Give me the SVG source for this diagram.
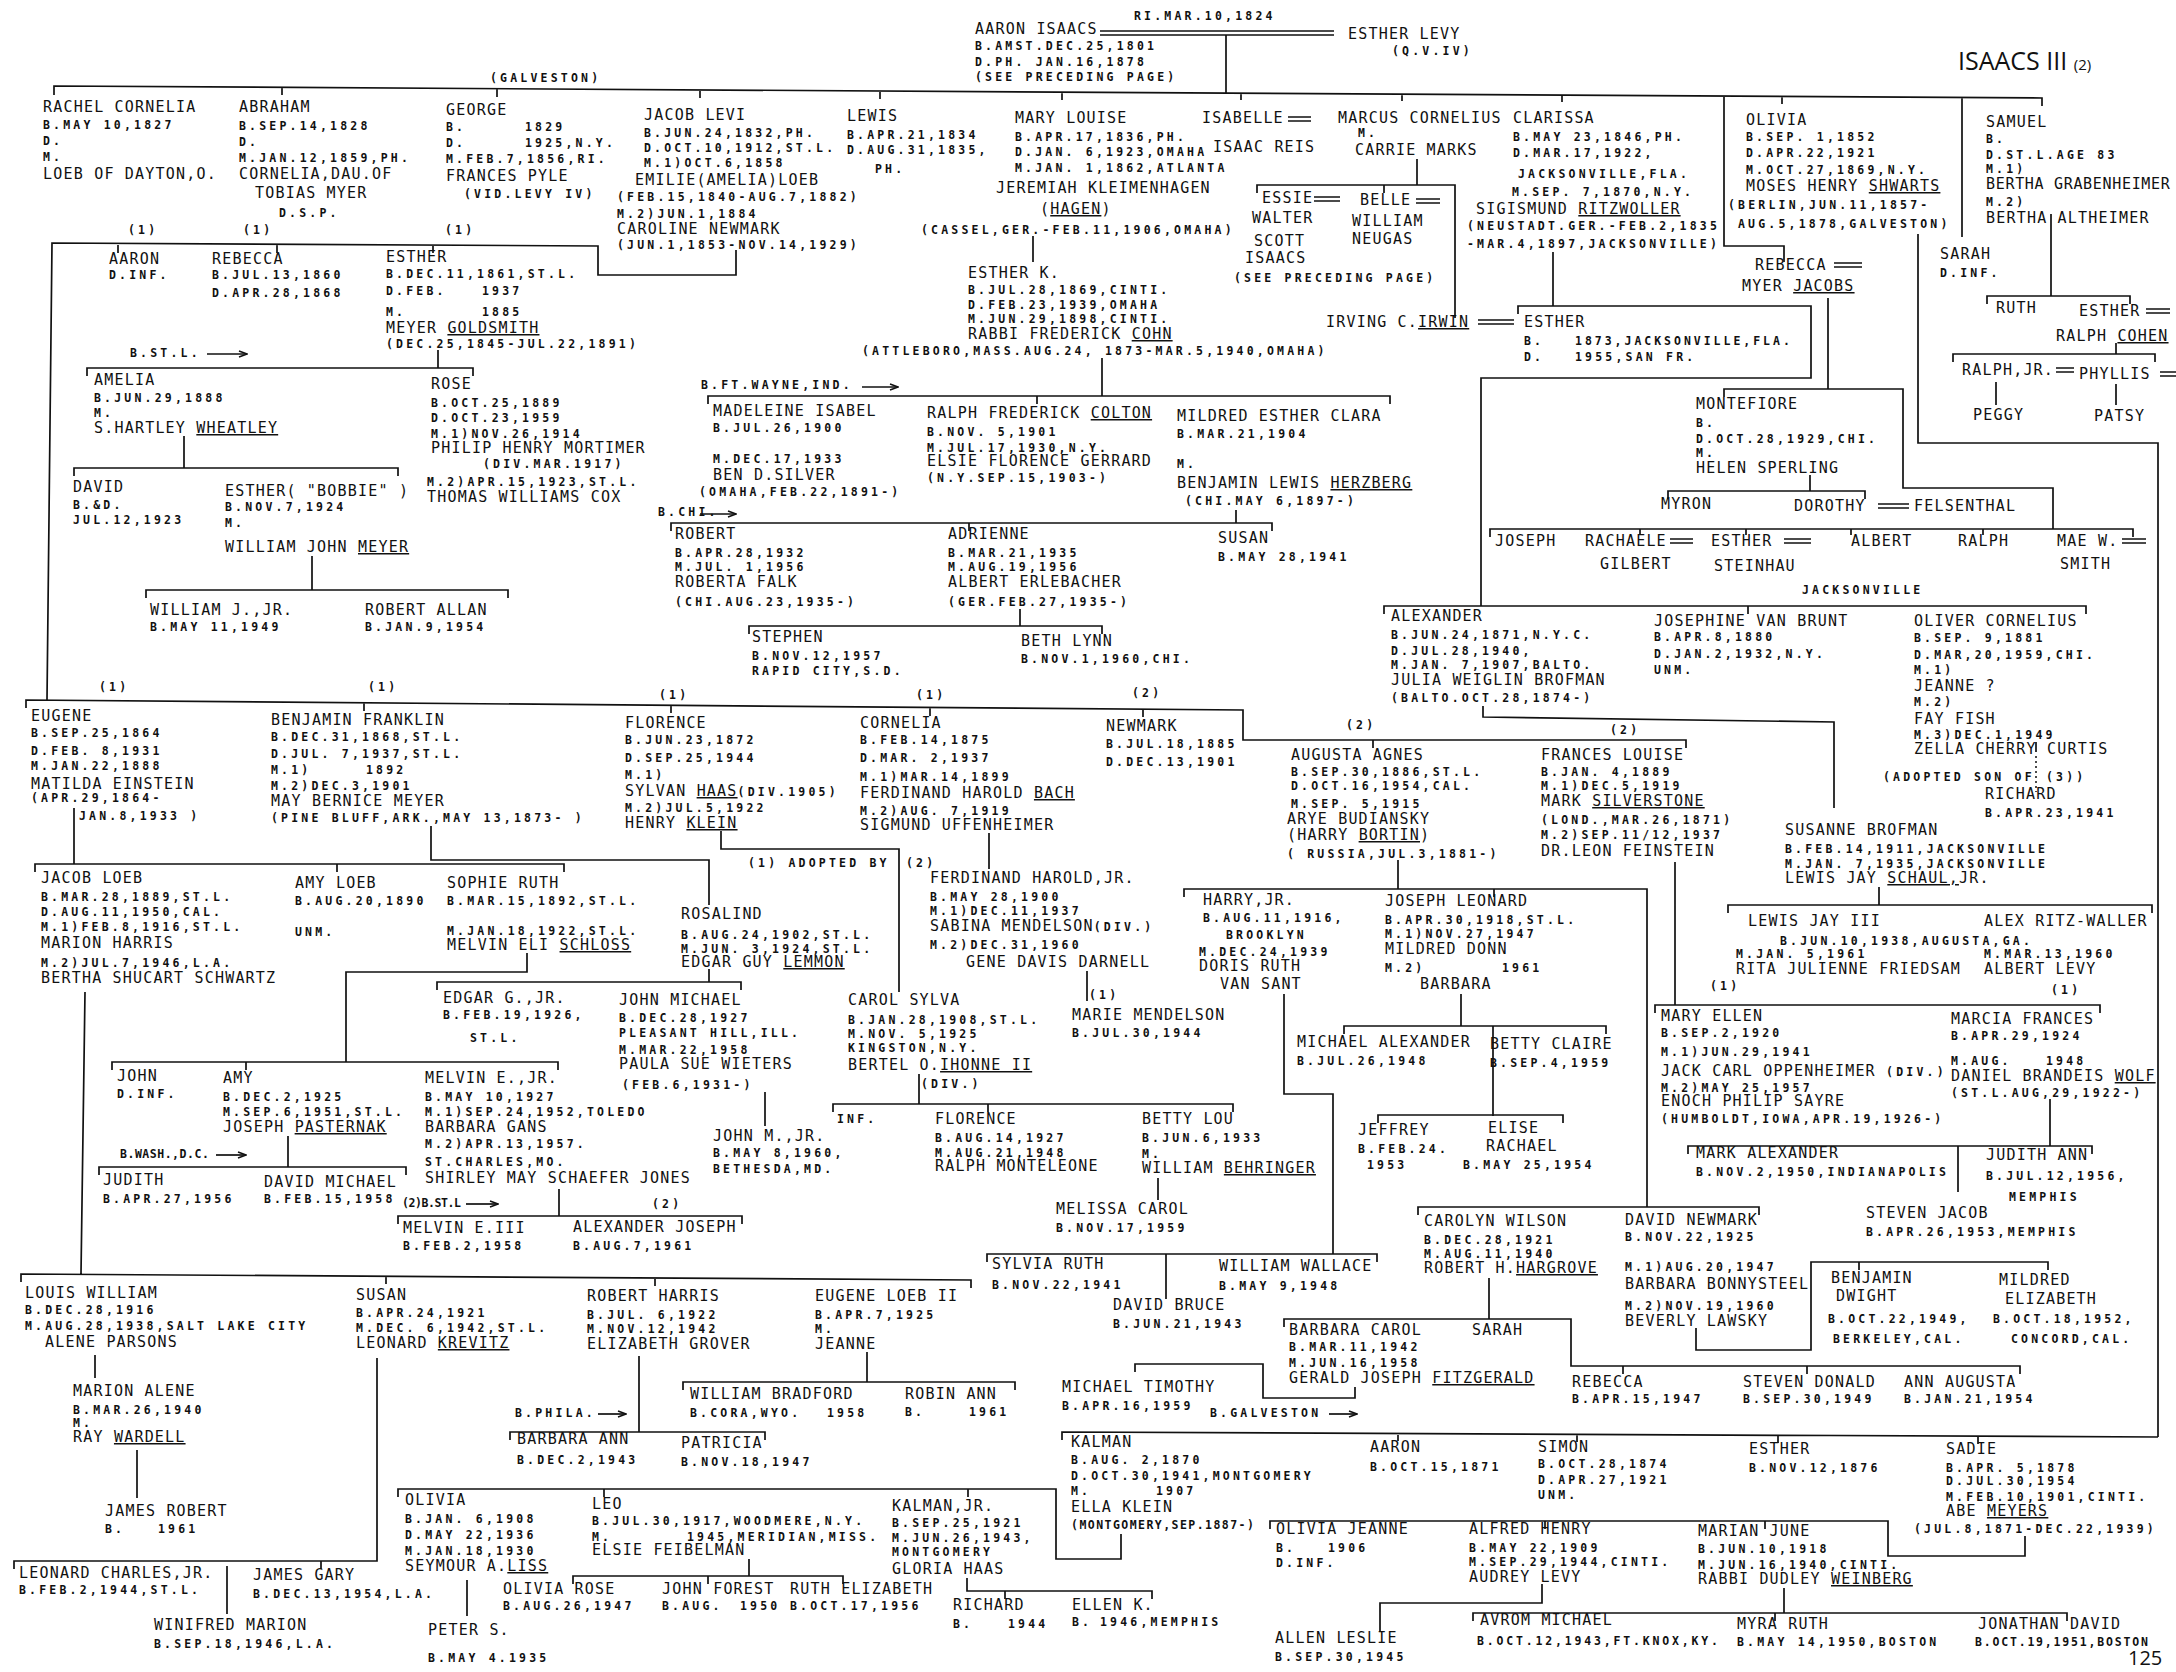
<svg xmlns="http://www.w3.org/2000/svg" width="2176" height="1672" viewBox="0 0 2176 1672" xml:space="preserve">
<style>
text{font-family:"DejaVu Sans Mono",monospace;fill:#111}
.n{font-size:15px;letter-spacing:1.2px}
.d{font-size:11.5px;letter-spacing:3.2px;font-weight:bold}
.u{text-decoration:underline}
.c{fill:none;stroke:#111;stroke-width:1.7}
.dot{fill:none;stroke:#111;stroke-width:1.5;stroke-dasharray:2 3}
.t{font-family:"Open Sans","Liberation Sans",sans-serif}
</style>
<defs>
<marker id="ah" markerWidth="10" markerHeight="8" refX="9" refY="4" orient="auto" markerUnits="userSpaceOnUse"><path d="M1 1L9 4L1 7" fill="none" stroke="#111" stroke-width="1.5"/></marker>
</defs>
<rect width="2176" height="1672" fill="#fff"/>
<g id="connectors" class="c">
<path d="M1100 31H1334M1100 35H1334M1226 35V93"/>
<path d="M54 95V86L2042 98V106M282 87V95M497 89V97M700 90V98M880 91V99M1062 92V100M1241 93V100M1402 94V101M1562 95V102M1724 96V246H1784V262M1782 96V104M1962 97V237"/>
<path d="M1918 234V443H2158V1437"/>
<path d="M736 250V275H598V246L52 243L47 700M118 245V253M277 245V253M433 245V253"/>
<path d="M438 350V368M87 376V368H473V376M184 436V468M74 476V468H398V476M312 556V590M146 598V590H508V598"/>
<path d="M26 708V700L1243 710V740H1686V748M364 703V711M671 705V713M930 708V716M1143 709V717M1373 740V748"/>
<path d="M74 808V864M35 872V864H564V872M337 864V872M431 826V860H709V905"/>
<path d="M527 953V972H346V1062M112 1070V1062H558V1070M246 1062V1070M709 969V982M437 990V982H741V990M765 1092V1126"/>
<path d="M288 1136V1167M99 1175V1167H406V1175M559 1189V1216M398 1224V1216H742V1224"/>
<path d="M85 992L81 1274M21 1282V1274L971 1280V1288M386 1276V1284M655 1278V1286M95 1355V1378M137 1450V1498"/>
<path d="M377 1358V1561H14V1569M321 1561V1569M227 1566V1614M639 1356V1432M510 1440V1432H765V1440M867 1352V1382M683 1390V1382H1015V1390"/>
<path d="M1121 1534V1559H1056V1489H398V1497M604 1489V1497M968 1489V1497M467 1580V1616M749 1559V1576M573 1584V1576H843V1584M708 1576V1584M967 1578V1591H1152V1599M1005 1591V1599"/>
<path d="M1033 236V262M1102 358V396M708 404V396H1390V404M1037 396V404M1236 510V523M671 531V523H1272V531M969 523V531M1020 609V626M749 634V626H1102V634"/>
<path d="M721 831V849H899V992M989 833V869M1087 971V1001M919 1074V1104M833 1112V1104H1233V1112M988 1104V1112M1158 1178V1200"/>
<path d="M1398 860V889M1184 897V889H1647V1207M1494 889V897M1418 1215V1207H1759V1215"/>
<path d="M1284 994V1094H1333V1254M987 1262V1254H1377V1262M1166 1254V1299"/>
<path d="M1461 994V1026M1344 1034V1026H1606V1034M1493 1026V1116M1378 1123V1115H1563V1123"/>
<path d="M1489 1278V1319M1284 1327V1319H1571V1366H2020V1374M1623 1366V1374M1807 1366V1374M1355 1387V1398H1263V1364H1135V1372"/>
<path d="M1062 1440V1432L2158 1437M1398 1433V1441M1577 1434V1442M1778 1435V1443M1978 1436V1444"/>
<path d="M2025 1536V1556H1888V1521H1270V1529M1545 1521V1529M1765 1521V1529M1542 1584V1603H1380V1631M1784 1588V1613M1473 1621V1613H2067V1621M1775 1613V1621"/>
<path d="M1417 159V185M1257 193V185H1455V318M1384 185V193M1553 252V306M1518 314V306H1811V378H1481V606M1384 614V606H2086V614M1748 606V614"/>
<path d="M1483 706V717L1834 722V808M1879 887V905M1728 913V905H2152V913M1675 862V1005M1655 1013V1005H2100V1013M2050 1099V1146M1688 1154V1146H2092V1154M1958 1146V1192M1696 1328V1350H1811V1262H2048V1270M1859 1262V1270"/>
<path d="M2036 742V752"/>
<path class="dot" d="M2036 756V792"/>
<path d="M1828 298V389M1724 397V389H1903V488H2053V529M1810 475V491M1668 499V491H1865V499M1490 537V529H2133V537M1640 529V535M1746 529V535M1851 529V535M1983 529V535"/>
<path d="M2051 214V296M1987 304V296H2130V304M2116 343V354M1953 362V354H2155V362M1996 382V405M2116 384V405"/>
<path d="M1288 117H1311M1288 121H1311M1314 197H1340M1314 201H1340M1416 199H1440M1416 203H1440M1478 320H1514M1478 324H1514M1834 263H1862M1834 267H1862M2146 309H2170M2146 313H2170M2056 368H2074M2056 372H2074M2160 372H2176M2160 376H2176M1878 504H1909M1878 508H1909M1670 539H1693M1670 543H1693M1784 539H1811M1784 543H1811M2122 539H2146M2122 543H2146"/>
<path marker-end="url(#ah)" d="M207 354H247"/>
<path marker-end="url(#ah)" d="M862 387H898"/>
<path marker-end="url(#ah)" d="M700 514H736"/>
<path marker-end="url(#ah)" d="M216 1155H246"/>
<path marker-end="url(#ah)" d="M466 1204H498"/>
<path marker-end="url(#ah)" d="M598 1414H626"/>
<path marker-end="url(#ah)" d="M1329 1414H1357"/>
</g>
<g id="labels">
<text class="t" x="1958" y="70" font-size="25">ISAACS III <tspan font-size="15">(2)</tspan></text>
<text class="t" x="2128" y="1665" font-size="20">125</text>
<text class="d" x="1134" y="20">RI.MAR.10,1824</text>
<text class="d" x="490" y="82">(GALVESTON)</text>
<text class="d" x="128" y="234">(1)</text><text class="d" x="243" y="234">(1)</text><text class="d" x="445" y="234">(1)</text>
<text class="d" x="99" y="691">(1)</text><text class="d" x="368" y="691">(1)</text><text class="d" x="659" y="699">(1)</text><text class="d" x="916" y="699">(1)</text>
<text class="d" x="1132" y="697">(2)</text><text class="d" x="1346" y="729">(2)</text><text class="d" x="1610" y="734">(2)</text>
<text class="d" x="1710" y="990">(1)</text><text class="d" x="2051" y="994">(1)</text>
<text class="d" x="1089" y="999">(1)</text><text class="d" x="652" y="1208">(2)</text>
<text class="d" x="748" y="867">(1) ADOPTED BY</text><text class="d" x="906" y="867">(2)</text>
<text class="d" x="130" y="357">B.ST.L.</text>
<text class="d" x="701" y="389">B.FT.WAYNE,IND.</text>
<text class="d" x="658" y="516">B.CHI.</text>
<text class="d" x="120" y="1158" textLength="92">B.WASH.,D.C.</text>
<text class="d" x="402" y="1207" textLength="62">(2)B.ST.L</text>
<text class="d" x="515" y="1417">B.PHILA.</text>
<text class="d" x="1210" y="1417">B.GALVESTON</text>
<text class="d" x="1802" y="594">JACKSONVILLE</text>
<text class="d" x="1883" y="781">(ADOPTED SON OF</text><text class="d" x="2046" y="781">(3))</text>
</g>
<g id="aaron-isaacs"><text class="n" x="975" y="34">AARON ISAACS</text><text class="d" x="975" y="50">B.AMST.DEC.25,1801</text><text class="d" x="975" y="66">D.PH.  JAN.16,1878</text><text class="d" x="975" y="81">(SEE PRECEDING PAGE)</text></g>
<g id="esther-levy"><text class="n" x="1348" y="39">ESTHER LEVY</text><text class="d" x="1392" y="55">(Q.V.IV)</text></g>
<g id="rachel"><text class="n" x="43" y="112">RACHEL CORNELIA</text><text class="d" x="43" y="129">B.MAY 10,1827</text><text class="d" x="43" y="145">D.</text><text class="d" x="43" y="161">M.</text><text class="n" x="43" y="179">LOEB OF DAYTON,O.</text></g>
<g id="abraham"><text class="n" x="239" y="112">ABRAHAM</text><text class="d" x="239" y="130">B.SEP.14,1828</text><text class="d" x="239" y="146">D.</text><text class="d" x="239" y="162">M.JAN.12,1859,PH.</text><text class="n" x="239" y="179">CORNELIA,DAU.OF</text><text class="n" x="255" y="198">TOBIAS MYER</text><text class="d" x="279" y="217">D.S.P.</text></g>
<g id="george"><text class="n" x="446" y="115">GEORGE</text><text class="d" x="446" y="131">B.</text><text class="d" x="525" y="131">1829</text><text class="d" x="446" y="147">D.</text><text class="d" x="525" y="147">1925,N.Y.</text><text class="d" x="446" y="163">M.FEB.7,1856,RI.</text><text class="n" x="446" y="181">FRANCES PYLE</text><text class="d" x="464" y="198">(VID.LEVY IV)</text></g>
<g id="jacob-levi"><text class="n" x="644" y="120">JACOB LEVI</text><text class="d" x="644" y="137">B.JUN.24,1832,PH.</text><text class="d" x="644" y="152">D.OCT.10,1912,ST.L.</text><text class="d" x="644" y="167">M.1)OCT.6,1858</text><text class="n" x="635" y="185">EMILIE(AMELIA)LOEB</text><text class="d" x="617" y="201">(FEB.15,1840-AUG.7,1882)</text><text class="d" x="617" y="218">M.2)JUN.1,1884</text><text class="n" x="617" y="234">CAROLINE NEWMARK</text><text class="d" x="617" y="249">(JUN.1,1853-NOV.14,1929)</text></g>
<g id="lewis"><text class="n" x="847" y="121">LEWIS</text><text class="d" x="847" y="139">B.APR.21,1834</text><text class="d" x="847" y="154">D.AUG.31,1835,</text><text class="d" x="875" y="173">PH.</text></g>
<g id="mary-louise"><text class="n" x="1015" y="123">MARY LOUISE</text><text class="d" x="1015" y="141">B.APR.17,1836,PH.</text><text class="d" x="1015" y="156">D.JAN. 6,1923,OMAHA</text><text class="d" x="1015" y="172">M.JAN. 1,1862,ATLANTA</text><text class="n" x="996" y="193">JEREMIAH KLEIMENHAGEN</text><text class="n" x="1040" y="214">(<tspan class="u">HAGEN</tspan>)</text><text class="d" x="921" y="234">(CASSEL,GER.-FEB.11,1906,OMAHA)</text></g>
<g id="isabelle"><text class="n" x="1202" y="123">ISABELLE</text><text class="n" x="1213" y="152">ISAAC REIS</text></g>
<g id="marcus"><text class="n" x="1338" y="123">MARCUS CORNELIUS</text><text class="d" x="1358" y="137">M.</text><text class="n" x="1355" y="155">CARRIE MARKS</text></g>
<g id="clarissa"><text class="n" x="1513" y="123">CLARISSA</text><text class="d" x="1513" y="141">B.MAY 23,1846,PH.</text><text class="d" x="1513" y="157">D.MAR.17,1922,</text><text class="d" x="1518" y="178">JACKSONVILLE,FLA.</text><text class="d" x="1512" y="196">M.SEP. 7,1870,N.Y.</text><text class="n" x="1476" y="214">SIGISMUND <tspan class="u">RITZWOLLER</tspan></text><text class="d" x="1467" y="230">(NEUSTADT.GER.-FEB.2,1835</text><text class="d" x="1467" y="248">-MAR.4,1897,JACKSONVILLE)</text></g>
<g id="olivia"><text class="n" x="1746" y="125">OLIVIA</text><text class="d" x="1746" y="141">B.SEP. 1,1852</text><text class="d" x="1746" y="157">D.APR.22,1921</text><text class="d" x="1746" y="174">M.OCT.27,1869,N.Y.</text><text class="n" x="1746" y="191">MOSES HENRY <tspan class="u">SHWARTS</tspan></text><text class="d" x="1728" y="209">(BERLIN,JUN.11,1857-</text><text class="d" x="1738" y="228">AUG.5,1878,GALVESTON)</text></g>
<g id="samuel"><text class="n" x="1986" y="127">SAMUEL</text><text class="d" x="1986" y="143">B.</text><text class="d" x="1986" y="159">D.ST.L.AGE 83</text><text class="d" x="1986" y="173">M.1)</text><text class="n" x="1986" y="189" textLength="185">BERTHA GRABENHEIMER</text><text class="d" x="1986" y="206">M.2)</text><text class="n" x="1986" y="223">BERTHA ALTHEIMER</text></g>
<g id="sarah"><text class="n" x="1940" y="259">SARAH</text><text class="d" x="1940" y="277">D.INF.</text></g>
<g id="ruth"><text class="n" x="1996" y="313">RUTH</text></g>
<g id="esther-cohen"><text class="n" x="2079" y="316">ESTHER</text><text class="n" x="2056" y="341">RALPH <tspan class="u">COHEN</tspan></text></g>
<g id="ralph-jr"><text class="n" x="1962" y="375">RALPH,JR.</text></g>
<g id="phyllis"><text class="n" x="2079" y="379">PHYLLIS</text></g>
<g id="peggy"><text class="n" x="1973" y="420">PEGGY</text></g>
<g id="patsy"><text class="n" x="2094" y="421">PATSY</text></g>
<g id="aaron-2"><text class="n" x="109" y="264">AARON</text><text class="d" x="109" y="279">D.INF.</text></g>
<g id="rebecca-2"><text class="n" x="212" y="264">REBECCA</text><text class="d" x="212" y="279">B.JUL.13,1860</text><text class="d" x="212" y="297">D.APR.28,1868</text></g>
<g id="esther-goldsmith"><text class="n" x="386" y="262">ESTHER</text><text class="d" x="386" y="278">B.DEC.11,1861,ST.L.</text><text class="d" x="386" y="295">D.FEB.</text><text class="d" x="482" y="295">1937</text><text class="d" x="386" y="316">M.</text><text class="d" x="482" y="316">1885</text><text class="n" x="386" y="333">MEYER <tspan class="u">GOLDSMITH</tspan></text><text class="d" x="386" y="348">(DEC.25,1845-JUL.22,1891)</text></g>
<g id="amelia"><text class="n" x="94" y="385">AMELIA</text><text class="d" x="94" y="402">B.JUN.29,1888</text><text class="d" x="94" y="417">M.</text><text class="n" x="94" y="433">S.HARTLEY <tspan class="u">WHEATLEY</tspan></text></g>
<g id="rose"><text class="n" x="431" y="389">ROSE</text><text class="d" x="431" y="407">B.OCT.25,1889</text><text class="d" x="431" y="422">D.OCT.23,1959</text><text class="d" x="431" y="438">M.1)NOV.26,1914</text><text class="n" x="431" y="453">PHILIP HENRY MORTIMER</text><text class="d" x="483" y="468">(DIV.MAR.1917)</text><text class="d" x="427" y="486">M.2)APR.15,1923,ST.L.</text><text class="n" x="427" y="502">THOMAS WILLIAMS COX</text></g>
<g id="david"><text class="n" x="73" y="492">DAVID</text><text class="d" x="73" y="509">B.&amp;D.</text><text class="d" x="73" y="524">JUL.12,1923</text></g>
<g id="esther-bobbie"><text class="n" x="225" y="496">ESTHER( "BOBBIE" )</text><text class="d" x="225" y="511">B.NOV.7,1924</text><text class="d" x="225" y="527">M.</text><text class="n" x="225" y="552">WILLIAM JOHN <tspan class="u">MEYER</tspan></text></g>
<g id="william-jr"><text class="n" x="150" y="615">WILLIAM J.,JR.</text><text class="d" x="150" y="631">B.MAY 11,1949</text></g>
<g id="robert-allan"><text class="n" x="365" y="615">ROBERT ALLAN</text><text class="d" x="365" y="631">B.JAN.9,1954</text></g>
<g id="esther-k"><text class="n" x="968" y="278">ESTHER K.</text><text class="d" x="968" y="294">B.JUL.28,1869,CINTI.</text><text class="d" x="968" y="309">D.FEB.23,1939,OMAHA</text><text class="d" x="968" y="323">M.JUN.29,1898,CINTI.</text><text class="n" x="968" y="339">RABBI FREDERICK <tspan class="u">COHN</tspan></text><text class="d" x="862" y="355">(ATTLEBORO,MASS.AUG.24, 1873-MAR.5,1940,OMAHA)</text></g>
<g id="madeleine"><text class="n" x="713" y="416">MADELEINE ISABEL</text><text class="d" x="713" y="432">B.JUL.26,1900</text><text class="d" x="713" y="463">M.DEC.17,1933</text><text class="n" x="713" y="480">BEN D.SILVER</text><text class="d" x="699" y="496">(OMAHA,FEB.22,1891-)</text></g>
<g id="ralph-colton"><text class="n" x="927" y="418">RALPH FREDERICK <tspan class="u">COLTON</tspan></text><text class="d" x="927" y="436">B.NOV. 5,1901</text><text class="d" x="927" y="452">M.JUL.17,1930,N.Y.</text><text class="n" x="927" y="466">ELSIE FLORENCE GERRARD</text><text class="d" x="927" y="482">(N.Y.SEP.15,1903-)</text></g>
<g id="mildred"><text class="n" x="1177" y="421">MILDRED ESTHER CLARA</text><text class="d" x="1177" y="438">B.MAR.21,1904</text><text class="d" x="1177" y="468">M.</text><text class="n" x="1177" y="488">BENJAMIN LEWIS <tspan class="u">HERZBERG</tspan></text><text class="d" x="1185" y="505">(CHI.MAY 6,1897-)</text></g>
<g id="robert"><text class="n" x="675" y="539">ROBERT</text><text class="d" x="675" y="557">B.APR.28,1932</text><text class="d" x="675" y="571">M.JUL. 1,1956</text><text class="n" x="675" y="587">ROBERTA FALK</text><text class="d" x="675" y="606">(CHI.AUG.23,1935-)</text></g>
<g id="adrienne"><text class="n" x="948" y="539">ADRIENNE</text><text class="d" x="948" y="557">B.MAR.21,1935</text><text class="d" x="948" y="571">M.AUG.19,1956</text><text class="n" x="948" y="587">ALBERT ERLEBACHER</text><text class="d" x="948" y="606">(GER.FEB.27,1935-)</text></g>
<g id="susan-herzberg"><text class="n" x="1218" y="543">SUSAN</text><text class="d" x="1218" y="561">B.MAY 28,1941</text></g>
<g id="stephen"><text class="n" x="752" y="642">STEPHEN</text><text class="d" x="752" y="660">B.NOV.12,1957</text><text class="d" x="752" y="675">RAPID CITY,S.D.</text></g>
<g id="beth-lynn"><text class="n" x="1021" y="646">BETH LYNN</text><text class="d" x="1021" y="663">B.NOV.1,1960,CHI.</text></g>
<g id="essie"><text class="n" x="1262" y="203">ESSIE</text><text class="n" x="1252" y="223">WALTER</text><text class="n" x="1254" y="246">SCOTT</text><text class="n" x="1245" y="263">ISAACS</text><text class="d" x="1234" y="282">(SEE PRECEDING PAGE)</text></g>
<g id="belle"><text class="n" x="1360" y="205">BELLE</text><text class="n" x="1352" y="226">WILLIAM</text><text class="n" x="1352" y="244">NEUGAS</text></g>
<g id="irwin"><text class="n" x="1326" y="327">IRVING C.<tspan class="u">IRWIN</tspan></text></g>
<g id="esther-irwin"><text class="n" x="1524" y="327">ESTHER</text><text class="d" x="1524" y="345">B.</text><text class="d" x="1575" y="345" textLength="218">1873,JACKSONVILLE,FLA.</text><text class="d" x="1524" y="361">D.</text><text class="d" x="1575" y="361">1955,SAN FR.</text></g>
<g id="rebecca-jacobs"><text class="n" x="1755" y="270">REBECCA</text><text class="n" x="1742" y="291">MYER <tspan class="u">JACOBS</tspan></text></g>
<g id="montefiore"><text class="n" x="1696" y="409">MONTEFIORE</text><text class="d" x="1696" y="427">B.</text><text class="d" x="1696" y="443">D.OCT.28,1929,CHI.</text><text class="d" x="1696" y="457">M.</text><text class="n" x="1696" y="473">HELEN SPERLING</text></g>
<g id="myron"><text class="n" x="1661" y="509">MYRON</text></g>
<g id="dorothy"><text class="n" x="1794" y="511">DOROTHY</text><text class="n" x="1914" y="511">FELSENTHAL</text></g>
<g id="joseph"><text class="n" x="1495" y="546">JOSEPH</text></g>
<g id="rachaele"><text class="n" x="1585" y="546">RACHAELE</text><text class="n" x="1600" y="569">GILBERT</text></g>
<g id="esther-steinhau"><text class="n" x="1711" y="546">ESTHER</text><text class="n" x="1714" y="571">STEINHAU</text></g>
<g id="albert"><text class="n" x="1851" y="546">ALBERT</text></g>
<g id="ralph"><text class="n" x="1958" y="546">RALPH</text></g>
<g id="mae"><text class="n" x="2057" y="546">MAE W.</text><text class="n" x="2060" y="569">SMITH</text></g>
<g id="eugene"><text class="n" x="31" y="721">EUGENE</text><text class="d" x="31" y="737">B.SEP.25,1864</text><text class="d" x="31" y="755">D.FEB. 8,1931</text><text class="d" x="31" y="770">M.JAN.22,1888</text><text class="n" x="31" y="789">MATILDA EINSTEIN</text><text class="d" x="31" y="802">(APR.29,1864-</text><text class="d" x="79" y="820">JAN.8,1933 )</text></g>
<g id="benjamin"><text class="n" x="271" y="725">BENJAMIN FRANKLIN</text><text class="d" x="271" y="741">B.DEC.31,1868,ST.L.</text><text class="d" x="271" y="758">D.JUL. 7,1937,ST.L.</text><text class="d" x="271" y="774">M.1)</text><text class="d" x="366" y="774">1892</text><text class="d" x="271" y="790">M.2)DEC.3,1901</text><text class="n" x="271" y="806">MAY BERNICE MEYER</text><text class="d" x="271" y="822">(PINE BLUFF,ARK.,MAY 13,1873- )</text></g>
<g id="florence"><text class="n" x="625" y="728">FLORENCE</text><text class="d" x="625" y="744">B.JUN.23,1872</text><text class="d" x="625" y="762">D.SEP.25,1944</text><text class="d" x="625" y="779">M.1)</text><text class="n" x="625" y="796">SYLVAN <tspan class="u">HAAS</tspan><tspan class="d">(DIV.1905)</tspan></text><text class="d" x="625" y="812">M.2)JUL.5,1922</text><text class="n" x="625" y="828">HENRY <tspan class="u">KLEIN</tspan></text></g>
<g id="cornelia"><text class="n" x="860" y="728">CORNELIA</text><text class="d" x="860" y="744">B.FEB.14,1875</text><text class="d" x="860" y="762">D.MAR. 2,1937</text><text class="d" x="860" y="781">M.1)MAR.14,1899</text><text class="n" x="860" y="798">FERDINAND HAROLD <tspan class="u">BACH</tspan></text><text class="d" x="860" y="815">M.2)AUG. 7,1919</text><text class="n" x="860" y="830">SIGMUND UFFENHEIMER</text></g>
<g id="newmark"><text class="n" x="1106" y="731">NEWMARK</text><text class="d" x="1106" y="748">B.JUL.18,1885</text><text class="d" x="1106" y="766">D.DEC.13,1901</text></g>
<g id="augusta"><text class="n" x="1291" y="760">AUGUSTA AGNES</text><text class="d" x="1291" y="776">B.SEP.30,1886,ST.L.</text><text class="d" x="1291" y="790">D.OCT.16,1954,CAL.</text><text class="d" x="1291" y="808">M.SEP. 5,1915</text><text class="n" x="1287" y="824">ARYE BUDIANSKY</text><text class="n" x="1287" y="840">(HARRY <tspan class="u">BORTIN</tspan>)</text><text class="d" x="1287" y="858">(  RUSSIA,JUL.3,1881-)</text></g>
<g id="frances"><text class="n" x="1541" y="760">FRANCES LOUISE</text><text class="d" x="1541" y="776">B.JAN. 4,1889</text><text class="d" x="1541" y="790">M.1)DEC.5,1919</text><text class="n" x="1541" y="806">MARK <tspan class="u">SILVERSTONE</tspan></text><text class="d" x="1541" y="824">(LOND.,MAR.26,1871)</text><text class="d" x="1541" y="839">M.2)SEP.11/12,1937</text><text class="n" x="1541" y="856">DR.LEON FEINSTEIN</text></g>
<g id="alexander"><text class="n" x="1391" y="621">ALEXANDER</text><text class="d" x="1391" y="639">B.JUN.24,1871,N.Y.C.</text><text class="d" x="1391" y="655">D.JUL.28,1940,</text><text class="d" x="1391" y="669">M.JAN. 7,1907,BALTO.</text><text class="n" x="1391" y="685">JULIA WEIGLIN BROFMAN</text><text class="d" x="1391" y="702">(BALTO.OCT.28,1874-)</text></g>
<g id="josephine"><text class="n" x="1654" y="626">JOSEPHINE VAN BRUNT</text><text class="d" x="1654" y="641">B.APR.8,1880</text><text class="d" x="1654" y="658">D.JAN.2,1932,N.Y.</text><text class="d" x="1654" y="674">UNM.</text></g>
<g id="oliver"><text class="n" x="1914" y="626">OLIVER CORNELIUS</text><text class="d" x="1914" y="642">B.SEP. 9,1881</text><text class="d" x="1914" y="659">D.MAR,20,1959,CHI.</text><text class="d" x="1914" y="674">M.1)</text><text class="n" x="1914" y="691">JEANNE ?</text><text class="d" x="1914" y="706">M.2)</text><text class="n" x="1914" y="724">FAY FISH</text><text class="d" x="1914" y="739">M.3)DEC.1,1949</text><text class="n" x="1914" y="754">ZELLA CHERRY CURTIS</text></g>
<g id="richard"><text class="n" x="1985" y="799">RICHARD</text><text class="d" x="1985" y="817">B.APR.23,1941</text></g>
<g id="susanne"><text class="n" x="1785" y="835">SUSANNE BROFMAN</text><text class="d" x="1785" y="853">B.FEB.14,1911,JACKSONVILLE</text><text class="d" x="1785" y="868">M.JAN. 7,1935,JACKSONVILLE</text><text class="n" x="1785" y="883">LEWIS JAY <tspan class="u">SCHAUL,</tspan>JR.</text></g>
<g id="lewis-jay"><text class="n" x="1748" y="926">LEWIS JAY III</text><text class="d" x="1780" y="945">B.JUN.10,1938,AUGUSTA,GA.</text><text class="d" x="1736" y="958">M.JAN. 5,1961</text><text class="n" x="1736" y="974">RITA JULIENNE FRIEDSAM</text></g>
<g id="alex"><text class="n" x="1984" y="926">ALEX RITZ-WALLER</text><text class="d" x="1984" y="958">M.MAR.13,1960</text><text class="n" x="1984" y="974">ALBERT LEVY</text></g>
<g id="mary-ellen"><text class="n" x="1661" y="1021">MARY ELLEN</text><text class="d" x="1661" y="1037">B.SEP.2,1920</text><text class="d" x="1661" y="1056">M.1)JUN.29,1941</text><text class="n" x="1661" y="1076">JACK CARL OPPENHEIMER <tspan class="d">(DIV.)</tspan></text><text class="d" x="1661" y="1092">M.2)MAY 25,1957</text><text class="n" x="1661" y="1106">ENOCH PHILIP SAYRE</text><text class="d" x="1661" y="1123">(HUMBOLDT,IOWA,APR.19,1926-)</text></g>
<g id="marcia"><text class="n" x="1951" y="1024">MARCIA FRANCES</text><text class="d" x="1951" y="1040">B.APR.29,1924</text><text class="d" x="1951" y="1065">M.AUG.</text><text class="d" x="2046" y="1065">1948</text><text class="n" x="1951" y="1081">DANIEL BRANDEIS <tspan class="u">WOLF</tspan></text><text class="d" x="1951" y="1097">(ST.L.AUG,29,1922-)</text></g>
<g id="mark-alexander"><text class="n" x="1696" y="1158">MARK ALEXANDER</text><text class="d" x="1696" y="1176">B.NOV.2,1950,INDIANAPOLIS</text></g>
<g id="judith-ann"><text class="n" x="1986" y="1160">JUDITH ANN</text><text class="d" x="1986" y="1180">B.JUL.12,1956,</text><text class="d" x="2009" y="1201">MEMPHIS</text></g>
<g id="steven-jacob"><text class="n" x="1866" y="1218">STEVEN JACOB</text><text class="d" x="1866" y="1236">B.APR.26,1953,MEMPHIS</text></g>
<g id="jacob-loeb"><text class="n" x="41" y="883">JACOB LOEB</text><text class="d" x="41" y="901">B.MAR.28,1889,ST.L.</text><text class="d" x="41" y="916">D.AUG.11,1950,CAL.</text><text class="d" x="41" y="931">M.1)FEB.8,1916,ST.L.</text><text class="n" x="41" y="948">MARION HARRIS</text><text class="d" x="41" y="967">M.2)JUL.7,1946,L.A.</text><text class="n" x="41" y="983">BERTHA SHUCART SCHWARTZ</text></g>
<g id="amy-loeb"><text class="n" x="295" y="888">AMY LOEB</text><text class="d" x="295" y="905">B.AUG.20,1890</text><text class="d" x="295" y="936">UNM.</text></g>
<g id="sophie"><text class="n" x="447" y="888">SOPHIE RUTH</text><text class="d" x="447" y="905">B.MAR.15,1892,ST.L.</text><text class="d" x="447" y="935">M.JAN.18,1922,ST.L.</text><text class="n" x="447" y="950">MELVIN ELI <tspan class="u">SCHLOSS</tspan></text></g>
<g id="rosalind"><text class="n" x="681" y="919">ROSALIND</text><text class="d" x="681" y="939">B.AUG.24,1902,ST.L.</text><text class="d" x="681" y="953">M.JUN. 3,1924,ST.L.</text><text class="n" x="681" y="967">EDGAR GUY <tspan class="u">LEMMON</tspan></text></g>
<g id="edgar-jr"><text class="n" x="443" y="1003">EDGAR G.,JR.</text><text class="d" x="443" y="1019">B.FEB.19,1926,</text><text class="d" x="470" y="1042">ST.L.</text></g>
<g id="john-michael"><text class="n" x="619" y="1005">JOHN MICHAEL</text><text class="d" x="619" y="1022">B.DEC.28,1927</text><text class="d" x="619" y="1037">PLEASANT HILL,ILL.</text><text class="d" x="619" y="1054">M.MAR.22,1958</text><text class="n" x="619" y="1069">PAULA SUE WIETERS</text><text class="d" x="622" y="1089">(FEB.6,1931-)</text></g>
<g id="john-m-jr"><text class="n" x="713" y="1141">JOHN M.,JR.</text><text class="d" x="713" y="1157">B.MAY 8,1960,</text><text class="d" x="713" y="1173">BETHESDA,MD.</text></g>
<g id="john"><text class="n" x="117" y="1081">JOHN</text><text class="d" x="117" y="1098">D.INF.</text></g>
<g id="amy"><text class="n" x="223" y="1083">AMY</text><text class="d" x="223" y="1101">B.DEC.2,1925</text><text class="d" x="223" y="1116">M.SEP.6,1951,ST.L.</text><text class="n" x="223" y="1132">JOSEPH <tspan class="u">PASTERNAK</tspan></text></g>
<g id="melvin-jr"><text class="n" x="425" y="1083">MELVIN E.,JR.</text><text class="d" x="425" y="1101">B.MAY 10,1927</text><text class="d" x="425" y="1116">M.1)SEP.24,1952,TOLEDO</text><text class="n" x="425" y="1132">BARBARA GANS</text><text class="d" x="425" y="1148">M.2)APR.13,1957.</text><text class="d" x="425" y="1166">ST.CHARLES,MO.</text><text class="n" x="425" y="1183">SHIRLEY MAY SCHAEFER JONES</text></g>
<g id="judith"><text class="n" x="103" y="1185">JUDITH</text><text class="d" x="103" y="1203">B.APR.27,1956</text></g>
<g id="david-michael"><text class="n" x="264" y="1187">DAVID MICHAEL</text><text class="d" x="264" y="1203">B.FEB.15,1958</text></g>
<g id="melvin-iii"><text class="n" x="403" y="1233">MELVIN E.III</text><text class="d" x="403" y="1250">B.FEB.2,1958</text></g>
<g id="alexander-joseph"><text class="n" x="573" y="1232">ALEXANDER JOSEPH</text><text class="d" x="573" y="1250">B.AUG.7,1961</text></g>
<g id="louis"><text class="n" x="25" y="1298">LOUIS WILLIAM</text><text class="d" x="25" y="1314">B.DEC.28,1916</text><text class="d" x="25" y="1330">M.AUG.28,1938,SALT LAKE CITY</text><text class="n" x="45" y="1347">ALENE PARSONS</text></g>
<g id="marion"><text class="n" x="73" y="1396">MARION ALENE</text><text class="d" x="73" y="1414">B.MAR.26,1940</text><text class="d" x="73" y="1427">M.</text><text class="n" x="73" y="1442">RAY <tspan class="u">WARDELL</tspan></text></g>
<g id="james-robert"><text class="n" x="105" y="1516">JAMES ROBERT</text><text class="d" x="105" y="1533">B.</text><text class="d" x="158" y="1533">1961</text></g>
<g id="susan"><text class="n" x="356" y="1300">SUSAN</text><text class="d" x="356" y="1317">B.APR.24,1921</text><text class="d" x="356" y="1332">M.DEC. 6,1942,ST.L.</text><text class="n" x="356" y="1348">LEONARD <tspan class="u">KREVITZ</tspan></text></g>
<g id="leonard-jr"><text class="n" x="19" y="1578">LEONARD CHARLES,JR.</text><text class="d" x="19" y="1594">B.FEB.2,1944,ST.L.</text></g>
<g id="james-gary"><text class="n" x="253" y="1580">JAMES GARY</text><text class="d" x="253" y="1598">B.DEC.13,1954,L.A.</text></g>
<g id="winifred"><text class="n" x="154" y="1630">WINIFRED MARION</text><text class="d" x="154" y="1648">B.SEP.18,1946,L.A.</text></g>
<g id="robert-harris"><text class="n" x="587" y="1301">ROBERT HARRIS</text><text class="d" x="587" y="1319">B.JUL. 6,1922</text><text class="d" x="587" y="1333">M.NOV.12,1942</text><text class="n" x="587" y="1349">ELIZABETH GROVER</text></g>
<g id="barbara-ann"><text class="n" x="517" y="1444">BARBARA ANN</text><text class="d" x="517" y="1464">B.DEC.2,1943</text></g>
<g id="patricia"><text class="n" x="681" y="1448">PATRICIA</text><text class="d" x="681" y="1466">B.NOV.18,1947</text></g>
<g id="eugene-ii"><text class="n" x="815" y="1301">EUGENE LOEB II</text><text class="d" x="815" y="1319">B.APR.7,1925</text><text class="d" x="815" y="1333">M.</text><text class="n" x="815" y="1349">JEANNE</text></g>
<g id="william-bradford"><text class="n" x="690" y="1399">WILLIAM BRADFORD</text><text class="d" x="690" y="1417">B.CORA,WYO.</text><text class="d" x="827" y="1417">1958</text></g>
<g id="robin"><text class="n" x="905" y="1399">ROBIN ANN</text><text class="d" x="905" y="1416">B.</text><text class="d" x="969" y="1416">1961</text></g>
<g id="ferdinand-jr"><text class="n" x="930" y="883">FERDINAND HAROLD,JR.</text><text class="d" x="930" y="901">B.MAY 28,1900</text><text class="d" x="930" y="915">M.1)DEC.11,1937</text><text class="n" x="930" y="931">SABINA MENDELSON<tspan class="d">(DIV.)</tspan></text><text class="d" x="930" y="949">M.2)DEC.31,1960</text><text class="n" x="966" y="967">GENE DAVIS DARNELL</text></g>
<g id="marie"><text class="n" x="1072" y="1020">MARIE MENDELSON</text><text class="d" x="1072" y="1037">B.JUL.30,1944</text></g>
<g id="carol"><text class="n" x="848" y="1005">CAROL SYLVA</text><text class="d" x="848" y="1024">B.JAN.28,1908,ST.L.</text><text class="d" x="848" y="1038">M.NOV. 5,1925</text><text class="d" x="848" y="1052">KINGSTON,N.Y.</text><text class="n" x="848" y="1070">BERTEL O.<tspan class="u">IHONNE II</tspan></text><text class="d" x="921" y="1088">(DIV.)</text></g>
<g id="inf"><text class="d" x="837" y="1123">INF.</text></g>
<g id="florence-2"><text class="n" x="935" y="1124">FLORENCE</text><text class="d" x="935" y="1142">B.AUG.14,1927</text><text class="d" x="935" y="1157">M.AUG.21,1948</text><text class="n" x="935" y="1171">RALPH MONTELEONE</text></g>
<g id="betty-lou"><text class="n" x="1142" y="1124">BETTY LOU</text><text class="d" x="1142" y="1142">B.JUN.6,1933</text><text class="d" x="1142" y="1158">M.</text><text class="n" x="1142" y="1173">WILLIAM <tspan class="u">BEHRINGER</tspan></text></g>
<g id="melissa"><text class="n" x="1056" y="1214">MELISSA CAROL</text><text class="d" x="1056" y="1232">B.NOV.17,1959</text></g>
<g id="harry-jr"><text class="n" x="1203" y="905">HARRY,JR.</text><text class="d" x="1203" y="922">B.AUG.11,1916,</text><text class="d" x="1226" y="939">BROOKLYN</text><text class="d" x="1199" y="956">M.DEC.24,1939</text><text class="n" x="1199" y="971">DORIS RUTH</text><text class="n" x="1220" y="989">VAN SANT</text></g>
<g id="joseph-leonard"><text class="n" x="1385" y="906">JOSEPH LEONARD</text><text class="d" x="1385" y="924">B.APR.30,1918,ST.L.</text><text class="d" x="1385" y="938">M.1)NOV.27,1947</text><text class="n" x="1385" y="954">MILDRED DONN</text><text class="d" x="1385" y="972">M.2)</text><text class="d" x="1502" y="972">1961</text><text class="n" x="1420" y="989">BARBARA</text></g>
<g id="michael-alexander"><text class="n" x="1297" y="1047">MICHAEL ALEXANDER</text><text class="d" x="1297" y="1065">B.JUL.26,1948</text></g>
<g id="betty-claire"><text class="n" x="1490" y="1049">BETTY CLAIRE</text><text class="d" x="1490" y="1067">B.SEP.4,1959</text></g>
<g id="jeffrey"><text class="n" x="1358" y="1135">JEFFREY</text><text class="d" x="1358" y="1153">B.FEB.24.</text><text class="d" x="1367" y="1169">1953</text></g>
<g id="elise"><text class="n" x="1488" y="1133">ELISE</text><text class="n" x="1486" y="1151">RACHAEL</text><text class="d" x="1463" y="1169">B.MAY 25,1954</text></g>
<g id="sylvia"><text class="n" x="992" y="1269">SYLVIA RUTH</text><text class="d" x="992" y="1289">B.NOV.22,1941</text></g>
<g id="william-wallace"><text class="n" x="1219" y="1271">WILLIAM WALLACE</text><text class="d" x="1219" y="1290">B.MAY 9,1948</text></g>
<g id="david-bruce"><text class="n" x="1113" y="1310">DAVID BRUCE</text><text class="d" x="1113" y="1328">B.JUN.21,1943</text></g>
<g id="carolyn"><text class="n" x="1424" y="1226">CAROLYN WILSON</text><text class="d" x="1424" y="1244">B.DEC.28,1921</text><text class="d" x="1424" y="1258">M.AUG.11,1940</text><text class="n" x="1424" y="1273">ROBERT H.<tspan class="u">HARGROVE</tspan></text></g>
<g id="david-newmark"><text class="n" x="1625" y="1225">DAVID NEWMARK</text><text class="d" x="1625" y="1241">B.NOV.22,1925</text><text class="d" x="1625" y="1271">M.1)AUG.20,1947</text><text class="n" x="1625" y="1289">BARBARA BONNYSTEEL</text><text class="d" x="1625" y="1310">M.2)NOV.19,1960</text><text class="n" x="1625" y="1326">BEVERLY LAWSKY</text></g>
<g id="benjamin-dwight"><text class="n" x="1831" y="1283">BENJAMIN</text><text class="n" x="1836" y="1301">DWIGHT</text><text class="d" x="1828" y="1323">B.OCT.22,1949,</text><text class="d" x="1833" y="1343">BERKELEY,CAL.</text></g>
<g id="mildred-elizabeth"><text class="n" x="1999" y="1285">MILDRED</text><text class="n" x="2005" y="1304">ELIZABETH</text><text class="d" x="1993" y="1323">B.OCT.18,1952,</text><text class="d" x="2011" y="1343">CONCORD,CAL.</text></g>
<g id="barbara-carol"><text class="n" x="1289" y="1335">BARBARA CAROL</text><text class="d" x="1289" y="1351">B.MAR.11,1942</text><text class="d" x="1289" y="1367">M.JUN.16,1958</text><text class="n" x="1289" y="1383">GERALD JOSEPH <tspan class="u">FITZGERALD</tspan></text></g>
<g id="sarah-2"><text class="n" x="1472" y="1335">SARAH</text></g>
<g id="michael-timothy"><text class="n" x="1062" y="1392">MICHAEL TIMOTHY</text><text class="d" x="1062" y="1410">B.APR.16,1959</text></g>
<g id="rebecca-3"><text class="n" x="1572" y="1387">REBECCA</text><text class="d" x="1572" y="1403">B.APR.15,1947</text></g>
<g id="steven-donald"><text class="n" x="1743" y="1387">STEVEN DONALD</text><text class="d" x="1743" y="1403">B.SEP.30,1949</text></g>
<g id="ann-augusta"><text class="n" x="1904" y="1387">ANN AUGUSTA</text><text class="d" x="1904" y="1403">B.JAN.21,1954</text></g>
<g id="kalman"><text class="n" x="1071" y="1447">KALMAN</text><text class="d" x="1071" y="1464">B.AUG. 2,1870</text><text class="d" x="1071" y="1480">D.OCT.30,1941,MONTGOMERY</text><text class="d" x="1071" y="1495">M.</text><text class="d" x="1156" y="1495">1907</text><text class="n" x="1071" y="1512">ELLA KLEIN</text><text class="d" x="1071" y="1529" textLength="186">(MONTGOMERY,SEP.1887-)</text></g>
<g id="aaron-3"><text class="n" x="1370" y="1452">AARON</text><text class="d" x="1370" y="1471">B.OCT.15,1871</text></g>
<g id="simon"><text class="n" x="1538" y="1452">SIMON</text><text class="d" x="1538" y="1468">B.OCT.28,1874</text><text class="d" x="1538" y="1484">D.APR.27,1921</text><text class="d" x="1538" y="1499">UNM.</text></g>
<g id="esther-3"><text class="n" x="1749" y="1454">ESTHER</text><text class="d" x="1749" y="1472">B.NOV.12,1876</text></g>
<g id="sadie"><text class="n" x="1946" y="1454">SADIE</text><text class="d" x="1946" y="1472">B.APR. 5,1878</text><text class="d" x="1946" y="1485">D.JUL.30,1954</text><text class="d" x="1946" y="1501">M.FEB.10,1901,CINTI.</text><text class="n" x="1946" y="1516">ABE <tspan class="u">MEYERS</tspan></text><text class="d" x="1914" y="1533">(JUL.8,1871-DEC.22,1939)</text></g>
<g id="olivia-2"><text class="n" x="405" y="1505">OLIVIA</text><text class="d" x="405" y="1523">B.JAN. 6,1908</text><text class="d" x="405" y="1539">D.MAY 22,1936</text><text class="d" x="405" y="1555">M.JAN.18,1930</text><text class="n" x="405" y="1571">SEYMOUR A.<tspan class="u">LISS</tspan></text></g>
<g id="leo"><text class="n" x="592" y="1509">LEO</text><text class="d" x="592" y="1525">B.JUL.30,1917,WOODMERE,N.Y.</text><text class="d" x="592" y="1541">M.</text><text class="d" x="687" y="1541">1945,MERIDIAN,MISS.</text><text class="n" x="592" y="1555">ELSIE FEIBELMAN</text></g>
<g id="kalman-jr"><text class="n" x="892" y="1511">KALMAN,JR.</text><text class="d" x="892" y="1527">B.SEP.25,1921</text><text class="d" x="892" y="1542">M.JUN.26,1943,</text><text class="d" x="892" y="1556">MONTGOMERY</text><text class="n" x="892" y="1574">GLORIA HAAS</text></g>
<g id="peter"><text class="n" x="428" y="1635">PETER S.</text><text class="d" x="428" y="1662">B.MAY 4.1935</text></g>
<g id="olivia-rose"><text class="n" x="503" y="1594">OLIVIA ROSE</text><text class="d" x="503" y="1610">B.AUG.26,1947</text></g>
<g id="john-forest"><text class="n" x="662" y="1594">JOHN FOREST</text><text class="d" x="662" y="1610">B.AUG.</text><text class="d" x="740" y="1610">1950</text></g>
<g id="ruth-elizabeth"><text class="n" x="790" y="1594">RUTH ELIZABETH</text><text class="d" x="790" y="1610">B.OCT.17,1956</text></g>
<g id="richard-2"><text class="n" x="953" y="1610">RICHARD</text><text class="d" x="953" y="1628">B.</text><text class="d" x="1008" y="1628">1944</text></g>
<g id="ellen"><text class="n" x="1072" y="1610">ELLEN K.</text><text class="d" x="1072" y="1626">B.</text><text class="d" x="1100" y="1626">1946,MEMPHIS</text></g>
<g id="olivia-jeanne"><text class="n" x="1276" y="1534">OLIVIA JEANNE</text><text class="d" x="1276" y="1552">B.</text><text class="d" x="1328" y="1552">1906</text><text class="d" x="1276" y="1567">D.INF.</text></g>
<g id="alfred"><text class="n" x="1469" y="1534">ALFRED HENRY</text><text class="d" x="1469" y="1552">B.MAY 22,1909</text><text class="d" x="1469" y="1566">M.SEP.29,1944,CINTI.</text><text class="n" x="1469" y="1582">AUDREY LEVY</text></g>
<g id="marian"><text class="n" x="1698" y="1536">MARIAN JUNE</text><text class="d" x="1698" y="1553">B.JUN.10,1918</text><text class="d" x="1698" y="1569">M.JUN.16,1940,CINTI.</text><text class="n" x="1698" y="1584">RABBI DUDLEY <tspan class="u">WEINBERG</tspan></text></g>
<g id="allen"><text class="n" x="1275" y="1643">ALLEN LESLIE</text><text class="d" x="1275" y="1661">B.SEP.30,1945</text></g>
<g id="avrom"><text class="n" x="1480" y="1625">AVROM MICHAEL</text><text class="d" x="1477" y="1645" textLength="244">B.OCT.12,1943,FT.KNOX,KY.</text></g>
<g id="myra"><text class="n" x="1737" y="1629">MYRA RUTH</text><text class="d" x="1737" y="1646">B.MAY 14,1950,BOSTON</text></g>
<g id="jonathan"><text class="n" x="1978" y="1629">JONATHAN DAVID</text><text class="d" x="1975" y="1646" textLength="176">B.OCT.19,1951,BOSTON</text></g>
</svg>
